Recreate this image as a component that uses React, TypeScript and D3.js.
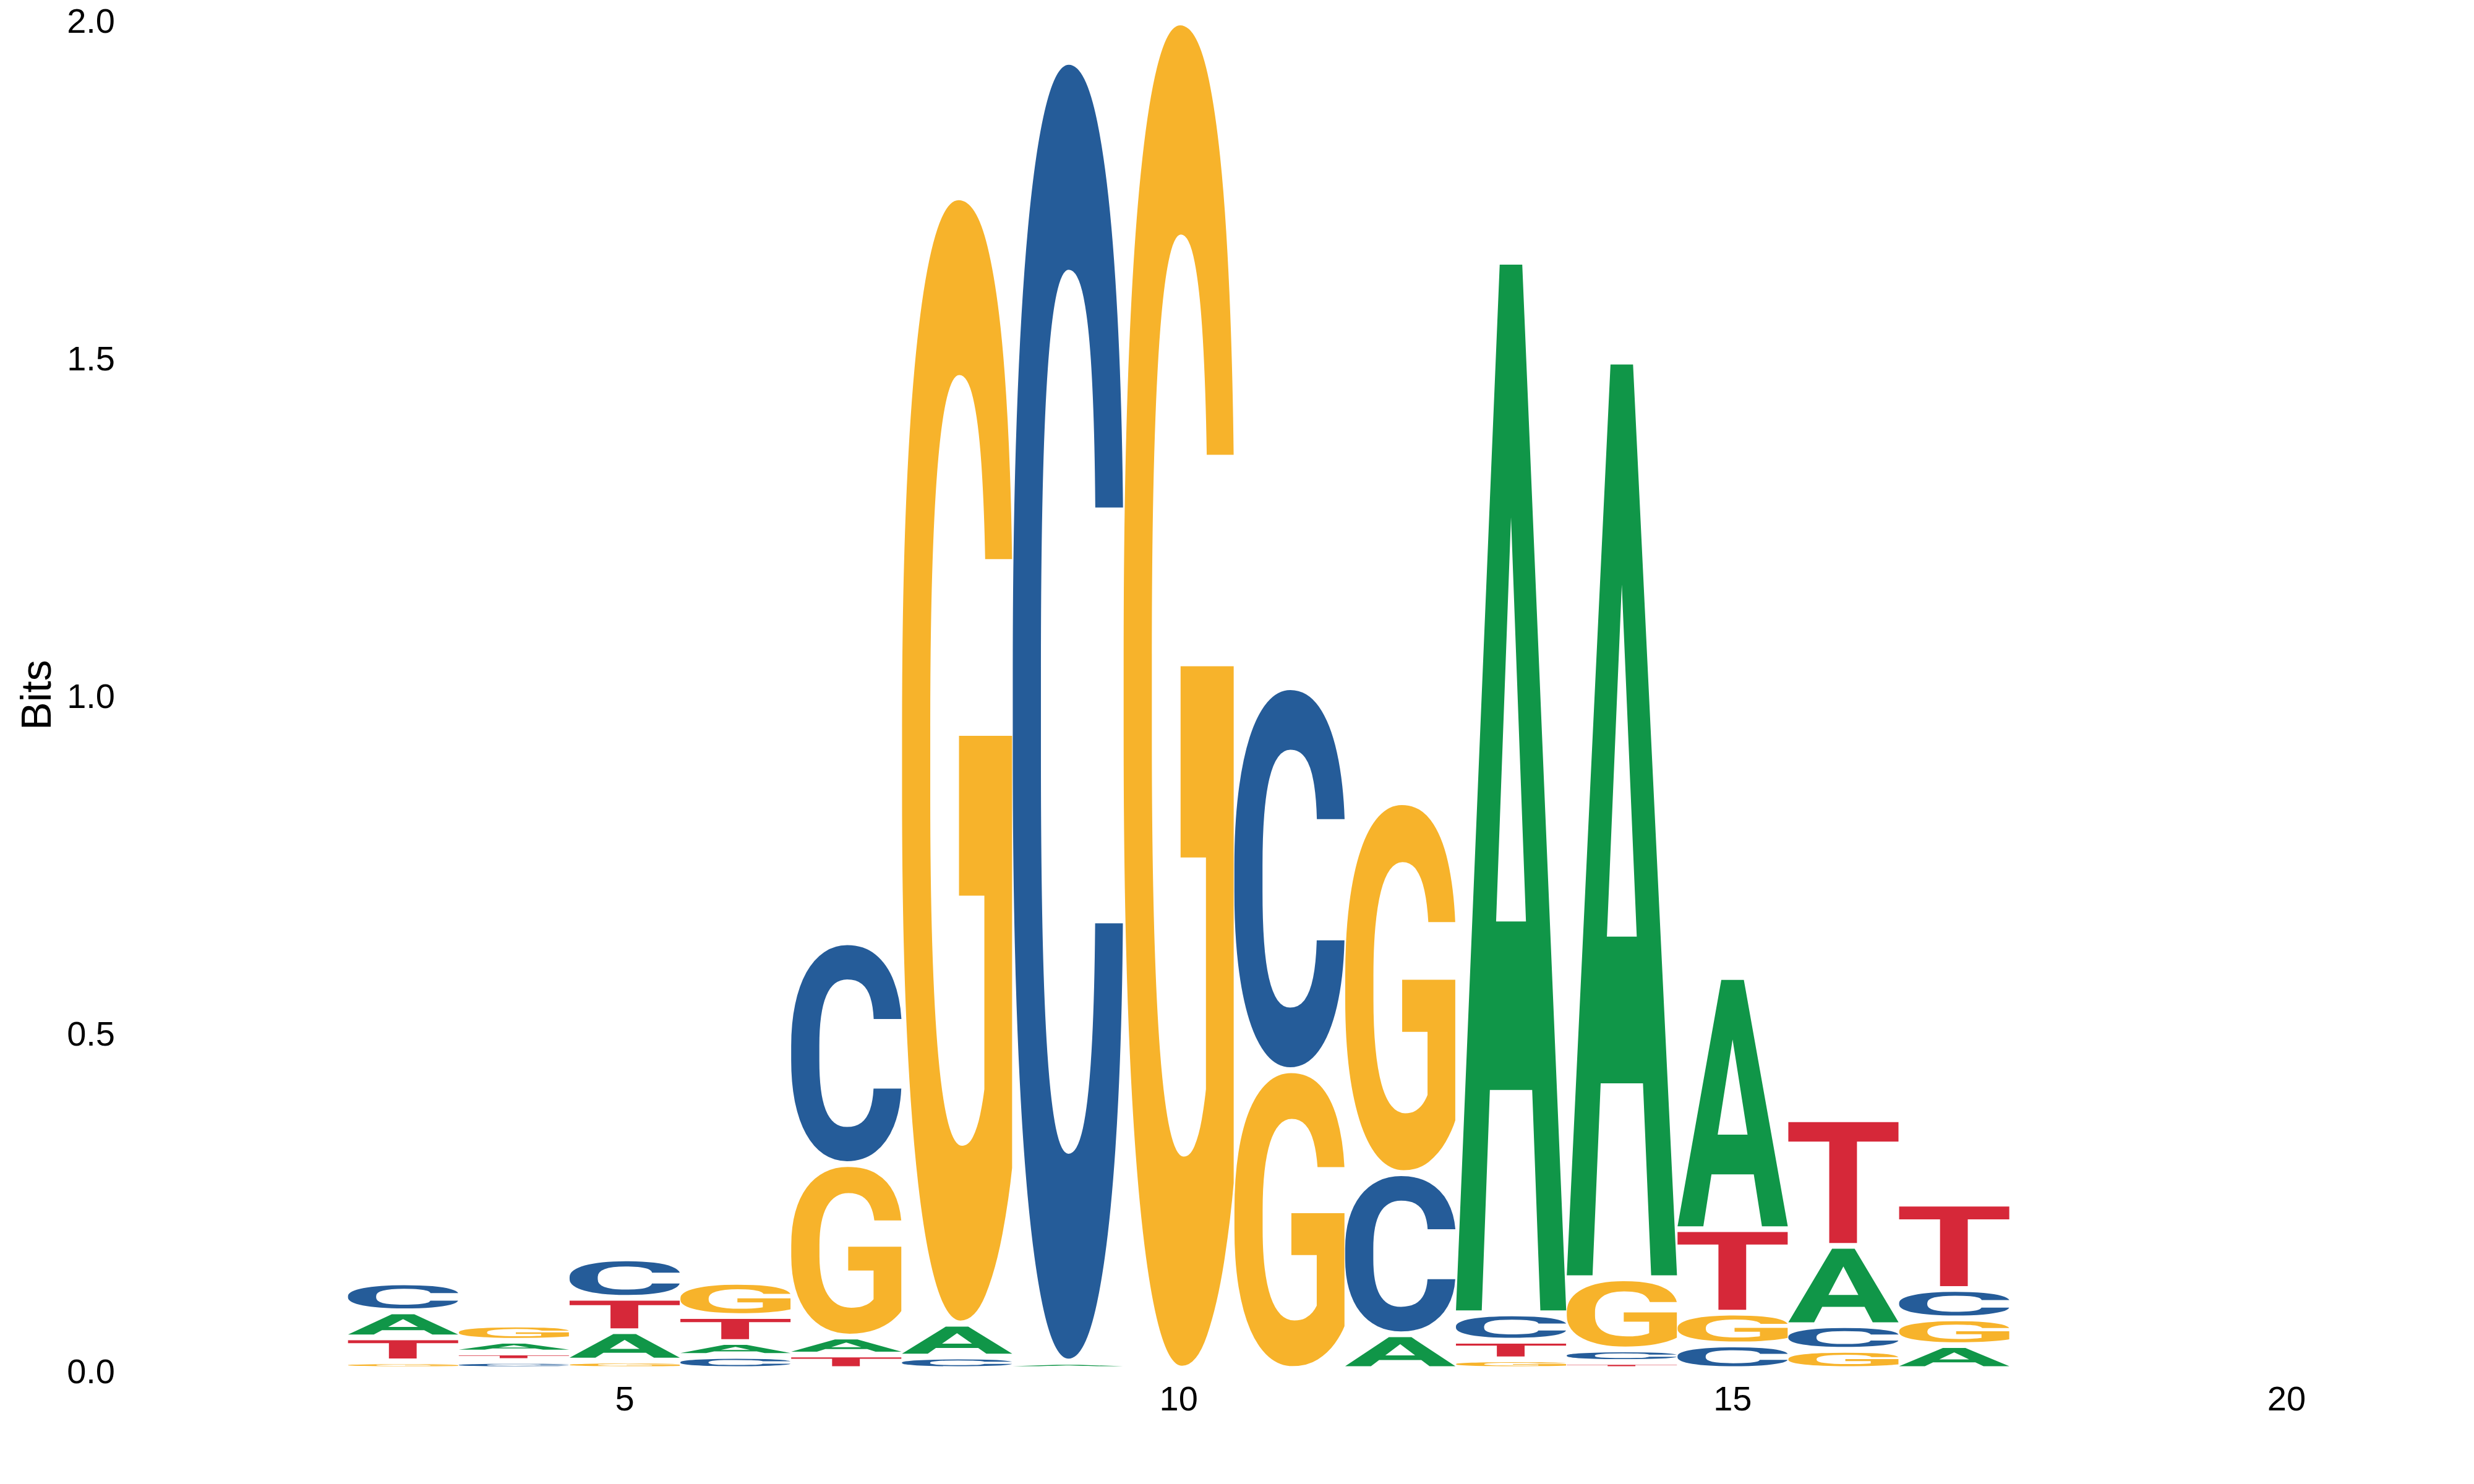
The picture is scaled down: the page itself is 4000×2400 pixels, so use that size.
import React, { useMemo } from 'react';
import * as d3 from 'd3';

// ---- data (bits per letter at each position) ----
const positions = [3, 4, 5, 6, 7, 8, 9, 10, 11, 12, 13, 14, 15, 16, 17];
const bitsA = [0.030, 0.009, 0.035, 0.012, 0.018, 0.040, 0.002, 0, 0, 0.043, 1.549, 1.349, 0.365, 0.109, 0.027];
const bitsC = [0.0345, 0.0035, 0.050, 0.011, 0.320, 0.010, 1.917, 0, 0.559, 0.230, 0.032, 0.010, 0.028, 0.028, 0.035];
const bitsG = [0.003, 0.0156, 0.004, 0.042, 0.247, 1.660, 0, 1.986, 0.434, 0.541, 0.006, 0.097, 0.0386, 0.020, 0.031];
const bitsT = [0.027, 0.0039, 0.041, 0.030, 0.013, 0, 0, 0, 0, 0, 0.019, 0.002, 0.115, 0.179, 0.118];
const letters = ['A', 'C', 'G', 'T'];
const yTicks = [0, 0.5, 1, 1.5, 2];
const xTicks = [5, 10, 15, 20];

const COLORS: Record<string, string> = { A: '#109648', C: '#255C99', G: '#F7B32B', T: '#D62839' };
const FONT = "'Liberation Sans', Arial, Helvetica, sans-serif";
const LOGO_FONT = "Roboto, Inter, 'Liberation Sans', sans-serif";
const LOGO_WEIGHT = 700;
const GAP = 9.3;

type Box = { l: number; r: number; a: number; d: number };

// exact ink bounds of each glyph, found by rasterising it once
function inkBounds(): Record<string, Box> {
  const S = 1400, FS = 1000, OX = 200, OY = 1150;
  const c = document.createElement('canvas');
  c.width = S; c.height = S;
  const ctx = c.getContext('2d', { willReadFrequently: true } as any)!;
  const out: Record<string, Box> = {};
  letters.forEach((ch) => {
    ctx.clearRect(0, 0, S, S);
    ctx.font = `${LOGO_WEIGHT} ${FS}px ${LOGO_FONT}`;
    ctx.fillStyle = '#000';
    ctx.textBaseline = 'alphabetic';
    ctx.fillText(ch, OX, OY);
    const data = ctx.getImageData(0, 0, S, S).data;
    let minX = S, maxX = -1, minY = S, maxY = -1;
    for (let yy = 0; yy < S; yy++) {
      for (let xx = 0; xx < S; xx++) {
        if (data[(yy * S + xx) * 4 + 3] >= 128) {
          if (xx < minX) minX = xx;
          if (xx > maxX) maxX = xx;
          if (yy < minY) minY = yy;
          if (yy > maxY) maxY = yy;
        }
      }
    }
    if (maxX < 0) {
      const t = ctx.measureText(ch);
      out[ch] = { l: t.actualBoundingBoxLeft, r: t.actualBoundingBoxRight, a: t.actualBoundingBoxAscent, d: t.actualBoundingBoxDescent };
    } else {
      out[ch] = { l: OX - minX, r: maxX + 1 - OX, a: OY - minY, d: maxY + 1 - OY };
    }
  });
  return out;
}

export default function App() {
  const W = 4000, H = 2400;
  const x = d3.scaleLinear().domain([5, 20]).range([1010, 3697]);
  const y = d3.scaleLinear().domain([0, 2]).range([2209.5, 25.5]);

  const metrics = useMemo(() => inkBounds(), []);

  const series: Record<string, number[]> = { A: bitsA, C: bitsC, G: bitsG, T: bitsT };

  const glyphs: React.ReactNode[] = [];
  positions.forEach((p, i) => {
    const stack = letters
      .map((ch) => ({ ch, v: series[ch][i] }))
      .filter((d) => d.v > 0)
      .sort((a, b) => a.v - b.v);
    let base = y(0);
    const x0 = x(p - 0.5) + 0.5;
    const x1 = x(p + 0.5) - 0.5;
    stack.forEach(({ ch, v }) => {
      const hpx = y(0) - y(v);
      const top = base - hpx;
      const mm = metrics[ch];
      const sx = (x1 - x0) / (mm.l + mm.r);
      const sy = hpx / (mm.a + mm.d);
      const tx = x0 + mm.l * sx;
      const ty = base - mm.d * sy;
      glyphs.push(
        <text
          key={`${p}-${ch}`}
          transform={`translate(${tx},${ty}) scale(${sx},${sy})`}
          fontFamily={LOGO_FONT}
          fontWeight={LOGO_WEIGHT}
          fontSize={1000}
          fill={COLORS[ch]}
        >
          {ch}
        </text>
      );
      base = top - GAP;
    });
  });

  return (
    <svg width={W} height={H} style={{ position: 'absolute', left: 0, top: 0, background: '#fff' }}>
      <rect width={W} height={H} fill="#fff" />
      {glyphs}
      {yTicks.map((t) => (
        <text key={`y${t}`} x={186} y={y(t) + 8} textAnchor="end" dominantBaseline="central"
          fontFamily={FONT} fontSize={56} fill="#000">
          {d3.format('.1f')(t)}
        </text>
      ))}
      {xTicks.map((t) => (
        <text key={`x${t}`} x={x(t)} y={2261} textAnchor="middle" dominantBaseline="central"
          fontFamily={FONT} fontSize={56} fill="#000">
          {t}
        </text>
      ))}
      <text transform={`translate(82,1124) rotate(-90)`} textAnchor="middle" fontFamily={FONT} fontSize={68} fill="#000">
        Bits
      </text>
    </svg>
  );
}
